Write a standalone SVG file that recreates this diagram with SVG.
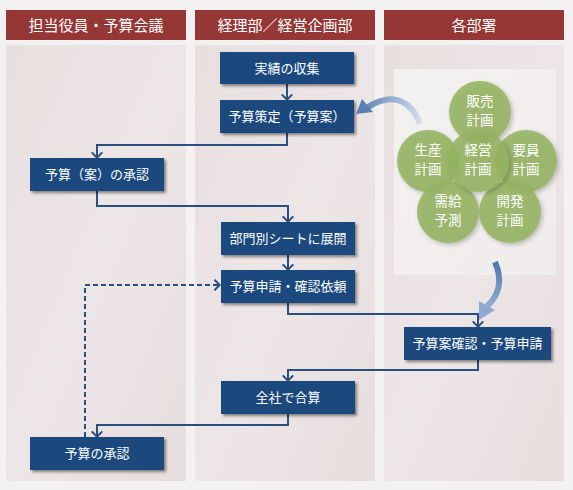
<svg xmlns="http://www.w3.org/2000/svg" width="573" height="490" viewBox="0 0 573 490">
<defs>
<style>
.hdr{fill:#953735}
.hdrt{fill:#fff;font-family:"Noto Sans CJK JP",sans-serif;font-size:15px;text-anchor:middle}
.lane{fill:url(#laneG)}
.box{fill:#1f497d;filter:url(#sh)}
.bt{fill:#fff;font-family:"Noto Sans CJK JP",sans-serif;font-size:13px;text-anchor:middle}
.con{fill:none;stroke:#2a4e7d;stroke-width:2}
.dash{stroke-dasharray:5 3}
.cir{fill:#95b461;fill-opacity:0.88;filter:url(#csh)}
.ct{fill:#fff;font-family:"Noto Sans CJK JP",sans-serif;font-size:13.5px;text-anchor:middle}
</style>
<linearGradient id="laneG" x1="0" y1="0" x2="1" y2="1">
<stop offset="0" stop-color="#e8dfdf"/>
<stop offset="0.5" stop-color="#ede6e6"/>
<stop offset="1" stop-color="#e7dede"/>
</linearGradient>
<linearGradient id="panG" x1="0" y1="0" x2="1" y2="1">
<stop offset="0" stop-color="#f4f1f1"/>
<stop offset="1" stop-color="#f0ecec"/>
</linearGradient>
<linearGradient id="a1G" gradientUnits="userSpaceOnUse" x1="420" y1="124" x2="358" y2="112">
<stop offset="0" stop-color="#d3deec"/>
<stop offset="1" stop-color="#5a81b4"/>
</linearGradient>
<linearGradient id="a2G" gradientUnits="userSpaceOnUse" x1="495" y1="262" x2="480" y2="320">
<stop offset="0" stop-color="#5078ae"/>
<stop offset="1" stop-color="#a9c0dd"/>
</linearGradient>
<filter id="sh" x="-10%" y="-20%" width="130%" height="150%">
<feDropShadow dx="2" dy="2" stdDeviation="1.5" flood-color="#000" flood-opacity="0.45"/>
</filter>
<filter id="csh" x="-20%" y="-20%" width="150%" height="150%">
<feDropShadow dx="2" dy="2" stdDeviation="2" flood-color="#000" flood-opacity="0.25"/>
</filter>
<marker id="ah" viewBox="0 0 7 12" refX="6.3" refY="6" markerWidth="7" markerHeight="12" markerUnits="userSpaceOnUse" orient="auto">
<path d="M0.7,0.7 L6,6 L0.7,11.3" fill="none" stroke="#2a4e7d" stroke-width="2"/>
</marker>
</defs>
<rect x="0" y="0" width="573" height="490" fill="#f3f1f1"/>
<g id="lanes">
<rect class="lane" x="6" y="45" width="180" height="436"/>
<rect class="lane" x="195" y="45" width="180" height="436"/>
<rect class="lane" x="384" y="45" width="180" height="436"/>
<rect x="394" y="69" width="162" height="206" fill="url(#panG)"/>
</g>
<g id="headers">
<rect class="hdr" x="6" y="10" width="180" height="30"/>
<text class="hdrt" x="96" y="30.5">担当役員・予算会議</text>
<rect class="hdr" x="195" y="10" width="180" height="30"/>
<text class="hdrt" x="285" y="30.5">経理部／経営企画部</text>
<rect class="hdr" x="384" y="10" width="180" height="30"/>
<text class="hdrt" x="474" y="30.5">各部署</text>
</g>
<g id="connectors">
<path class="con" d="M287,84 V100" marker-end="url(#ah)"/>
<path class="con" d="M287,133 V145 H97 V158" marker-end="url(#ah)"/>
<path class="con" d="M97,191 V206 H288 V222" marker-end="url(#ah)"/>
<path class="con" d="M288,255 V270" marker-end="url(#ah)"/>
<path class="con" d="M288,303 V314 H478 V327" marker-end="url(#ah)"/>
<path class="con" d="M478,360 V370 H288 V381" marker-end="url(#ah)"/>
<path class="con" d="M288,414 V425 H97 V437" marker-end="url(#ah)"/>
<path class="con dash" d="M85,437 V285 H220" marker-end="url(#ah)"/>
</g>
<g id="n1"><rect class="box" x="220" y="52" width="134" height="32"/><text class="bt" x="287" y="72.5">実績の収集</text></g>
<g id="n2"><rect class="box" x="220" y="100" width="134" height="33"/><text class="bt" x="287" y="121">予算策定（予算案）</text></g>
<g id="n3"><rect class="box" x="30" y="158" width="134" height="33"/><text class="bt" x="97" y="179">予算（案）の承認</text></g>
<g id="n4"><rect class="box" x="221" y="222" width="134" height="33"/><text class="bt" x="288" y="243">部門別シートに展開</text></g>
<g id="n5"><rect class="box" x="221" y="270" width="134" height="33"/><text class="bt" x="288" y="291">予算申請・確認依頼</text></g>
<g id="n6"><rect class="box" x="404" y="327" width="147" height="33"/><text class="bt" x="477.5" y="348">予算案確認・予算申請</text></g>
<g id="n7"><rect class="box" x="221" y="381" width="134" height="33"/><text class="bt" x="288" y="402">全社で合算</text></g>
<g id="n8"><rect class="box" x="30" y="437" width="134" height="33"/><text class="bt" x="97" y="458">予算の承認</text></g>
<g id="plans">
<circle class="cir" cx="480" cy="112" r="31"/>
<circle class="cir" cx="428" cy="161" r="31"/>
<circle class="cir" cx="526" cy="161" r="31"/>
<circle class="cir" cx="448" cy="212" r="31"/>
<circle class="cir" cx="510" cy="212" r="31"/>
<circle class="cir" cx="478" cy="161" r="31"/>
<text class="ct" x="480" y="105.5">販売<tspan x="480" dy="19.6">計画</tspan></text>
<text class="ct" x="428" y="154.5">生産<tspan x="428" dy="19.6">計画</tspan></text>
<text class="ct" x="478" y="154.5">経営<tspan x="478" dy="19.6">計画</tspan></text>
<text class="ct" x="526" y="154.5">要員<tspan x="526" dy="19.6">計画</tspan></text>
<text class="ct" x="448" y="205.5">需給<tspan x="448" dy="19.6">予測</tspan></text>
<text class="ct" x="510" y="205.5">開発<tspan x="510" dy="19.6">計画</tspan></text>
</g>
<g id="flowArrows">
<path d="M420,124 C413,104 396,90 368,107" fill="none" stroke="url(#a1G)" stroke-width="6"/>
<polygon points="356,114 362,99 373,112" fill="#5a81b4"/>
<path d="M495,262 C503,280 499,296 487,306" fill="none" stroke="url(#a2G)" stroke-width="6"/>
<polygon points="479,320 479,301 495,310" fill="#8eaad0"/>
</g>
</svg>
